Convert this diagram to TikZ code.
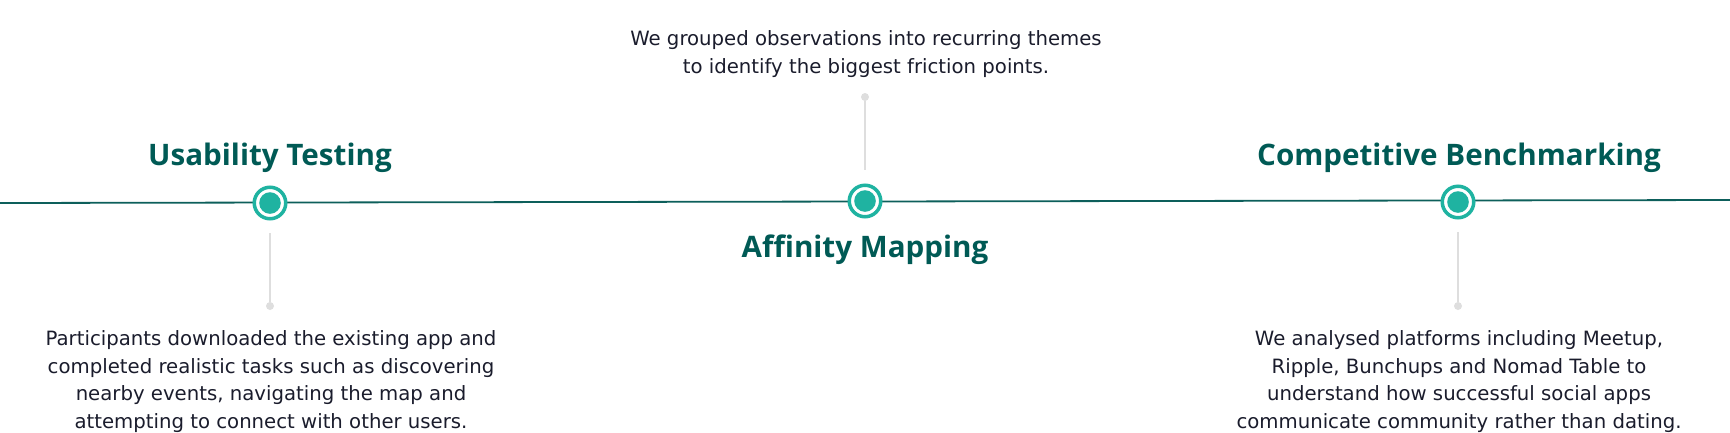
\documentclass[tikz,border=0pt]{standalone}
\usepackage{fontspec}
\setmainfont{Open Sans}
\newfontfamily\bodyfont{DejaVu Sans}
\usetikzlibrary{positioning}

\definecolor{titleteal}{HTML}{005A55}
\definecolor{lineteal}{HTML}{0D5F5B}
\definecolor{ringteal}{HTML}{1FB3A1}
\definecolor{stemgray}{HTML}{DEDEDE}
\definecolor{ink}{HTML}{1A1C2C}

\begin{document}
\begin{tikzpicture}[x=1pt,y=-1pt]
\tikzset{
	ring node/.style = {circle, draw = ringteal, line width = 3.5pt, fill = white, minimum size = 31.5pt, inner sep = 0,
		path picture = {\fill[ringteal] (path picture bounding box.center) circle (10.8pt);}},
	dot node/.style = {circle, fill = stemgray, minimum size = 8pt, inner sep = 0},
	stem/.style = {draw = stemgray, line width = 1.6pt},
	title/.style = {font = \fontsize{29.6}{34}\selectfont\bfseries, text = titleteal, anchor = base, inner sep = 0},
	body/.style = {font = \bodyfont\fontsize{19.7}{27.5}\selectfont, text = ink, align = center, anchor = base, inner sep = 0},
}
\useasboundingbox (0,0) rectangle (1730,432);

% timeline
\coordinate (start) at (0,203);
\coordinate (end) at (1730,200);
\draw [lineteal, line width = 1.8pt] (start) -- (end);

% steps
\node(us)[ring node] at (270,203) {};
\node(af)[ring node] at (865,201) {};
\node(cb)[ring node] at (1458,202) {};

\node(usdot)[dot node] at (270,306) {};
\node(afdot)[dot node] at (865,97) {};
\node(cbdot)[dot node] at (1458,306) {};

\draw [stem, shorten < = 12.5pt] (us) -- (usdot);
\draw [stem, shorten > = 13.5pt] (afdot) -- (af);
\draw [stem, shorten < = 12.5pt] (cb) -- (cbdot);

% labels (body nodes sit on their last line)
\node(ustitle)[title] at (270,165) {Usability Testing};
\node(aftitle)[title] at (865,257) {Affinity Mapping};
\node(cbtitle)[title] at (1459,165) {Competitive Benchmarking};

\node(ustext)[body] at (271,428) {Participants downloaded the existing app and\\
	completed realistic tasks such as discovering\\
	nearby events, navigating the map and\\
	attempting to connect with other users.};
\node(aftext)[body] at (866,73) {We grouped observations into recurring themes\\
	to identify the biggest friction points.};
\node(cbtext)[body] at (1459,428) {We analysed platforms including Meetup,\\
	Ripple, Bunchups and Nomad Table to\\
	understand how successful social apps\\
	communicate community rather than dating.};

\end{tikzpicture}
\end{document}
